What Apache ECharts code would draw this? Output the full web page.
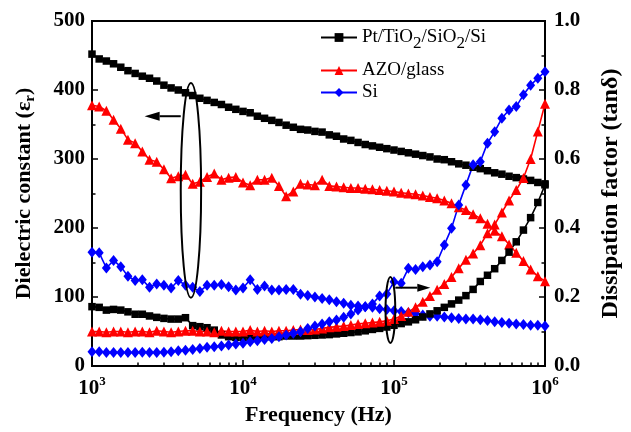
<!DOCTYPE html>
<html>
<head>
<meta charset="utf-8">
<script src="https://cdn.jsdelivr.net/npm/echarts@6/dist/echarts.min.js"></script>
<style>
html, body { margin: 0; padding: 0; background: #fff; }
#chart { width: 631px; height: 432px; }
</style>
</head>
<body>
<div id="chart"></div>
<script>
// frequency sweep (Hz), 21 points per decade
var freq = [
    1000, 1116, 1245, 1389, 1551, 1730, 1931, 2154, 2404, 2683,
    2994, 3341, 3728, 4160, 4642, 5179, 5780, 6449, 7197, 8031,
    8962, 10000, 11160, 12450, 13890, 15510, 17300, 19310, 21540, 24040,
    26830, 29940, 33410, 37280, 41600, 46420, 51790, 57800, 64490, 71970,
    80310, 89620, 100000, 111600, 124500, 138900, 155100, 173000, 193100, 215400,
    240400, 268300, 299400, 334100, 372800, 416000, 464200, 517900, 578000, 644900,
    719700, 803100, 896200, 1000000
];

// dielectric constant (left axis)
var ptEps = [
    452, 445, 442, 438, 433, 428, 424, 420, 417, 413,
    407, 403, 400, 396, 392, 388, 385, 382, 379, 375,
    372, 369, 367, 362, 359, 356, 353, 349, 346, 343,
    342, 340, 339, 335, 333, 329, 327, 324, 321, 319,
    317, 315, 313, 311, 309, 307, 305, 303, 300, 299,
    296, 293, 291, 288, 286, 283, 280, 278, 275, 273,
    271, 269, 266, 264
];
var azoEps = [
    378, 376, 370, 357, 344, 328, 323, 311, 299, 296,
    285, 272, 275, 277, 264, 267, 274, 279, 270, 273,
    274, 266, 262, 270, 270, 273, 261, 246, 253, 264,
    263, 262, 270, 261, 260, 259, 258, 258, 257, 256,
    255, 254, 253, 251, 250, 249, 247, 245, 243, 240,
    236, 230, 226, 220, 214, 206, 196, 188, 176, 164,
    152, 140, 130, 123
];
var siEps = [
    165, 164, 142, 153, 144, 130, 124, 125, 114, 119,
    117, 113, 124, 117, 114, 108, 117, 117, 118, 115,
    110, 113, 125, 111, 116, 110, 110, 111, 111, 104,
    102, 100, 98, 96, 93, 91, 88, 87, 86, 85,
    83, 82, 80, 79, 77, 76, 74, 72, 72, 71,
    70, 69, 68, 68, 67, 66, 64, 63, 62, 61,
    60, 59, 59, 58
];

// dissipation factor (right axis)
var ptTan = [
    0.172, 0.170, 0.162, 0.164, 0.162, 0.157, 0.150, 0.150, 0.145, 0.141,
    0.138, 0.136, 0.136, 0.140, 0.117, 0.114, 0.111, 0.104, 0.090, 0.085,
    0.083, 0.083, 0.083, 0.083, 0.085, 0.085, 0.085, 0.087, 0.087, 0.087,
    0.088, 0.089, 0.090, 0.091, 0.093, 0.095, 0.097, 0.099, 0.102, 0.106,
    0.109, 0.113, 0.118, 0.123, 0.128, 0.134, 0.142, 0.151, 0.160, 0.170,
    0.180, 0.191, 0.204, 0.222, 0.245, 0.263, 0.282, 0.306, 0.330, 0.360,
    0.394, 0.430, 0.474, 0.525
];
var azoTan = [
    0.100, 0.100, 0.098, 0.100, 0.100, 0.098, 0.100, 0.100, 0.098, 0.102,
    0.100, 0.098, 0.100, 0.102, 0.102, 0.100, 0.100, 0.098, 0.102, 0.100,
    0.100, 0.100, 0.104, 0.100, 0.102, 0.100, 0.102, 0.102, 0.104, 0.106,
    0.104, 0.106, 0.109, 0.112, 0.114, 0.116, 0.119, 0.122, 0.124, 0.126,
    0.128, 0.131, 0.136, 0.145, 0.157, 0.170, 0.186, 0.203, 0.221, 0.238,
    0.258, 0.283, 0.308, 0.326, 0.350, 0.385, 0.410, 0.445, 0.480, 0.510,
    0.545, 0.600, 0.680, 0.760
];
var siTan = [
    0.041, 0.041, 0.039, 0.039, 0.039, 0.039, 0.039, 0.040, 0.039, 0.039,
    0.040, 0.041, 0.044, 0.046, 0.048, 0.051, 0.054, 0.056, 0.058, 0.061,
    0.064, 0.066, 0.070, 0.073, 0.077, 0.080, 0.085, 0.090, 0.095, 0.099,
    0.109, 0.116, 0.122, 0.128, 0.133, 0.141, 0.151, 0.162, 0.172, 0.180,
    0.203, 0.209, 0.244, 0.240, 0.283, 0.280, 0.288, 0.293, 0.302, 0.351,
    0.399, 0.467, 0.525, 0.583, 0.592, 0.646, 0.679, 0.718, 0.742, 0.752,
    0.786, 0.814, 0.834, 0.853
];

var names = ['Pt/TiO2/SiO2/Si', 'AZO/glass', 'Si'];
var xMinorTicks = [
    2000, 3000, 4000, 5000, 6000, 7000, 8000, 9000,
    20000, 30000, 40000, 50000, 60000, 70000, 80000, 90000,
    200000, 300000, 400000, 500000, 600000, 700000, 800000, 900000
];

// annotation anchors (data space): ellipse + arrow
var noteLeft = { f: [3870, 5280], eps: [99, 410], arrowEps: 362, tipF: 2230 };
var noteRight = { f: [87900, 101950], tan: [0.067, 0.258], arrowTan: 0.227, tipF: 174000 };

var FONT = "'Liberation Serif', 'Times New Roman', serif";

function pairs(ys) {
    return freq.map(function (f, i) { return [f, ys[i]]; });
}

function mkSeries(name, ys, yIdx, symbol, size, color) {
    return {
        name: name,
        type: 'line',
        yAxisIndex: yIdx,
        data: pairs(ys),
        symbol: symbol,
        symbolSize: size,
        showAllSymbol: true,
        itemStyle: { color: color },
        lineStyle: { color: color, width: 1.6 },
        emphasis: { disabled: true }
    };
}

function legendItem(name, top) {
    return {
        data: [name],
        orient: 'vertical',
        left: 320,
        top: top,
        padding: 0,
        itemWidth: 36,
        itemHeight: 11,
        selectedMode: false,
        formatter: function (n) {
            if (n === names[0]) {
                return '{n|Pt/TiO}{s|2}{n|/SiO}{s|2}{n|/Si}';
            }
            return '{n|' + n + '}';
        },
        textStyle: {
            rich: {
                n: { fontFamily: FONT, fontSize: 19, lineHeight: 22, color: '#000' },
                s: { fontFamily: FONT, fontSize: 17, lineHeight: 18, padding: [12, 0, 0, 0], color: '#000' }
            }
        }
    };
}

var chart = echarts.init(document.getElementById('chart'));

var tickLabel = { fontFamily: FONT, fontWeight: 'bold', fontSize: 21, color: '#000' };

var option = {
    animation: false,
    backgroundColor: '#fff',
    grid: {
        left: 92, right: 74, top: 21, bottom: 66,
        show: true, borderColor: '#000', borderWidth: 2, backgroundColor: 'transparent'
    },
    legend: [legendItem(names[0], 23), legendItem(names[1], 61), legendItem(names[2], 83)],
    xAxis: [
        {
            type: 'log',
            logBase: 10,
            min: 1000,
            max: 1000000,
            position: 'bottom',
            name: 'Frequency (Hz)',
            nameLocation: 'middle',
            nameGap: 32,
            nameTextStyle: { fontFamily: FONT, fontWeight: 'bold', fontSize: 22, color: '#000' },
            axisLine: { lineStyle: { color: '#000', width: 2 } },
            axisTick: { inside: true, length: 6, lineStyle: { color: '#000', width: 1.5 } },
            splitLine: { show: false },
            axisLabel: {
                margin: 9,
                formatter: function (v) {
                    var e = Math.round(Math.log(v) / Math.LN10);
                    return '{b|10}{p|' + e + '}';
                },
                rich: {
                    b: { fontFamily: FONT, fontWeight: 'bold', fontSize: 21, lineHeight: 24, padding: [2, 0, 0, 0], verticalAlign: 'bottom', color: '#000' },
                    p: { fontFamily: FONT, fontWeight: 'bold', fontSize: 13, lineHeight: 14, verticalAlign: 'top', color: '#000' }
                }
            }
        },
        {
            // minor ticks 2..9 of each decade
            type: 'log',
            logBase: 10,
            min: 1000,
            max: 1000000,
            position: 'bottom',
            axisLine: { show: false },
            axisLabel: { show: false },
            splitLine: { show: false },
            axisTick: {
                inside: true, length: 3.5, customValues: xMinorTicks,
                lineStyle: { color: '#000', width: 1.5 }
            }
        }
    ],
    yAxis: [
        {
            type: 'value',
            min: 0,
            max: 500,
            interval: 100,
            position: 'left',
            name: '{a|Dielectric constant (ε}{b|r}{a|)}',
            nameLocation: 'middle',
            nameGap: 55,
            nameTextStyle: {
                rich: {
                    a: { fontFamily: FONT, fontWeight: 'bold', fontSize: 22, lineHeight: 26, color: '#000' },
                    b: { fontFamily: FONT, fontWeight: 'bold', fontSize: 15, lineHeight: 16, padding: [12, 0, 0, 0], color: '#000' }
                }
            },
            axisLine: { show: true, lineStyle: { color: '#000', width: 2 } },
            axisTick: { inside: true, length: 6, lineStyle: { color: '#000', width: 1.5 } },
            minorTick: { show: true, splitNumber: 2, length: 3.5, lineStyle: { color: '#000', width: 1.5 } },
            splitLine: { show: false },
            axisLabel: Object.assign({ margin: 7 }, tickLabel)
        },
        {
            type: 'value',
            min: 0,
            max: 1,
            interval: 0.2,
            position: 'right',
            name: 'Dissipation factor (tanδ)',
            nameLocation: 'middle',
            nameGap: 54,
            nameTextStyle: { fontFamily: FONT, fontWeight: 'bold', fontSize: 24, color: '#000' },
            axisLine: { show: true, lineStyle: { color: '#000', width: 2 } },
            axisTick: { inside: true, length: 6, lineStyle: { color: '#000', width: 1.5 } },
            minorTick: { show: true, splitNumber: 2, length: 3.5, lineStyle: { color: '#000', width: 1.5 } },
            splitLine: { show: false },
            axisLabel: Object.assign({
                margin: 9,
                formatter: function (v) { return v.toFixed(1); }
            }, tickLabel)
        }
    ],
    series: [
        mkSeries(names[0], ptEps, 0, 'rect', 7.5, '#000000'),
        mkSeries(names[1], azoEps, 0, 'triangle', 10, '#ff0000'),
        mkSeries(names[2], siEps, 0, 'diamond', [9, 11], '#0000ff'),
        mkSeries(names[0], ptTan, 1, 'rect', 7.5, '#000000'),
        mkSeries(names[1], azoTan, 1, 'triangle', 10, '#ff0000'),
        mkSeries(names[2], siTan, 1, 'diamond', [9, 11], '#0000ff')
    ]
};

chart.setOption(option);

// ellipses + arrows, placed through the chart's own axes
function toPx(f, v, yIdx) {
    return chart.convertToPixel({ xAxisIndex: 0, yAxisIndex: yIdx }, [f, v]);
}

function note(n, vals, arrowVal, yIdx, dir) {
    var a = toPx(n.f[0], vals[0], yIdx);
    var b = toPx(n.f[1], vals[1], yIdx);
    var cx = (a[0] + b[0]) / 2, cy = (a[1] + b[1]) / 2;
    var rx = Math.abs(b[0] - a[0]) / 2, ry = Math.abs(a[1] - b[1]) / 2;
    var ay = toPx(n.f[0], arrowVal, yIdx)[1];
    var tipX = toPx(n.tipF, arrowVal, yIdx)[0];
    var startX = dir < 0 ? a[0] : b[0];
    var headLen = dir < 0 ? 15 : 13, headHalf = dir < 0 ? 4.5 : 4;
    var baseX = tipX - dir * headLen;
    return [
        {
            type: 'ellipse',
            shape: { cx: cx, cy: cy, rx: rx, ry: ry },
            style: { fill: 'none', stroke: '#000', lineWidth: 2 },
            z: 100
        },
        {
            type: 'line',
            shape: { x1: startX, y1: ay, x2: baseX, y2: ay },
            style: { stroke: '#000', lineWidth: 2 },
            z: 100
        },
        {
            type: 'polygon',
            shape: { points: [[tipX, ay], [baseX, ay - headHalf], [baseX, ay + headHalf]] },
            style: { fill: '#000' },
            z: 100
        }
    ];
}

chart.setOption({
    graphic: note(noteLeft, noteLeft.eps, noteLeft.arrowEps, 0, -1)
        .concat(note(noteRight, noteRight.tan, noteRight.arrowTan, 1, 1))
});
</script>
</body>
</html>
